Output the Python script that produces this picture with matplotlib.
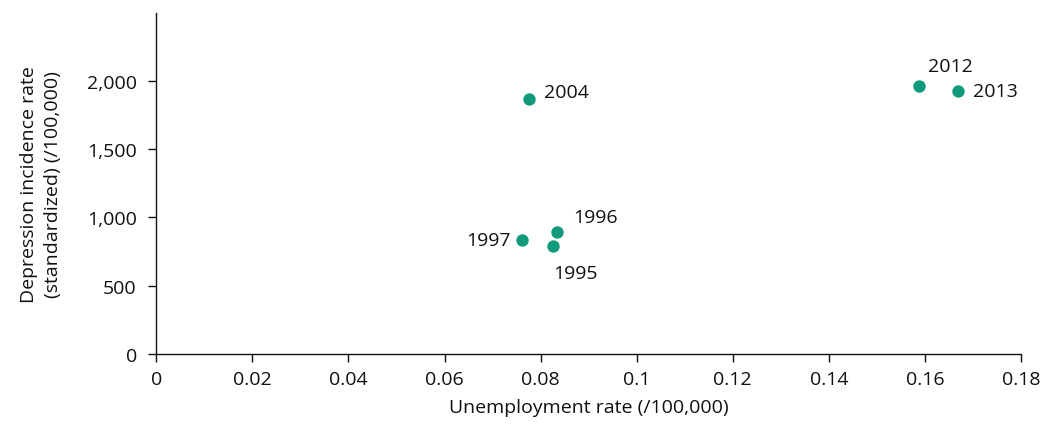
import matplotlib
matplotlib.use("Agg")
import matplotlib.pyplot as plt
from matplotlib.ticker import FuncFormatter

years = ["1995", "1996", "1997", "2004", "2012", "2013"]
unemployment = [0.0826, 0.0834, 0.0762, 0.0775, 0.1588, 0.1668]
depression = [792, 890, 834, 1872, 1965, 1928]
label_offsets = {"1995": (0, -27, "left"), "1996": (16, 15, "left"), "1997": (-12, 0, "right"),
                 "2004": (15, 7, "left"), "2012": (9, 20, "left"), "2013": (15, 0, "left")}
xticks = [0, 0.02, 0.04, 0.06, 0.08, 0.1, 0.12, 0.14, 0.16, 0.18]
yticks = [0, 500, 1000, 1500, 2000]

plt.rcParams['font.family'] = ['Open Sans', 'DejaVu Sans']
fs = 14

fig = plt.figure(figsize=(10.57, 4.27), dpi=100)
ax = fig.add_axes([156.3/1057, 1-354.7/427, (1021-156.3)/1057, (354.7-14)/427])

ax.scatter(unemployment, depression, s=80, color="#119a7b", zorder=3, linewidths=0)
for yr, x, y in zip(years, unemployment, depression):
    dx, dy, ha = label_offsets[yr]
    ax.annotate(yr, (x, y), xytext=(dx * 0.72, dy * 0.72), textcoords="offset points",
                ha=ha, va="center", fontsize=fs, color="#111111")

ax.set_xlim(0, 0.18)
ax.set_ylim(0, 2500)
ax.set_xticks(xticks)
ax.set_xticklabels(["0" if t == 0 else f"{t:g}" for t in xticks])
ax.set_yticks(yticks)
ax.yaxis.set_major_formatter(FuncFormatter(lambda v, p: f"{int(v):,}"))
for s in ["top", "right"]:
    ax.spines[s].set_visible(False)
for s in ["left", "bottom"]:
    ax.spines[s].set_linewidth(1.0)
    ax.spines[s].set_color("#111111")
ax.tick_params(axis="both", direction="out", length=6, width=1.0, labelsize=fs,
               colors="#111111", labelcolor="#111111")
ax.tick_params(axis="x", pad=6)
ax.tick_params(axis="y", pad=8)
ax.set_xlabel("Unemployment rate (/100,000)", fontsize=fs, color="#111111", labelpad=7)
ax.set_ylabel("Depression incidence rate\n(standardized) (/100,000)", fontsize=fs,
              color="#111111", labelpad=18, linespacing=1.4)

fig.savefig("out.png", dpi=100)
